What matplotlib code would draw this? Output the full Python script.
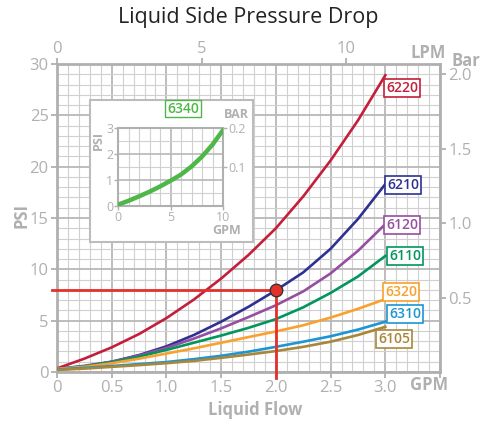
import matplotlib
matplotlib.use("Agg")
import matplotlib.pyplot as plt
import numpy as np
from matplotlib.patches import Rectangle
from matplotlib.ticker import MultipleLocator

plt.rcParams["font.family"] = ["Open Sans", "DejaVu Sans"]

# flow points (GPM) and pressure drop (PSI) for each model
flow_gpm = [0, 0.25, 0.5, 0.75, 1.0, 1.25, 1.5, 1.75, 2.0, 2.25, 2.5, 2.75, 3.0]
psi_6220 = [0.35, 1.3, 2.4, 3.7, 5.25, 7.05, 9.1, 11.4, 14.0, 17.1, 20.6, 24.5, 28.9]
psi_6210 = [0.3, 0.55, 1.0, 1.65, 2.5, 3.6, 4.9, 6.35, 7.95, 9.7, 12.0, 14.9, 18.3]
psi_6120 = [0.3, 0.6, 1.0, 1.6, 2.35, 3.25, 4.25, 5.35, 6.5, 7.85, 9.6, 11.8, 14.4]
psi_6110 = [0.3, 0.55, 0.95, 1.5, 2.15, 2.85, 3.55, 4.3, 5.15, 6.3, 7.7, 9.3, 11.3]
psi_6320 = [0.3, 0.5, 0.85, 1.3, 1.8, 2.3, 2.85, 3.4, 3.95, 4.55, 5.3, 6.15, 7.1]
psi_6310 = [0.25, 0.4, 0.58, 0.77, 0.97, 1.25, 1.58, 1.98, 2.45, 2.95, 3.48, 4.13, 4.9]
psi_6105 = [0.2, 0.33, 0.5, 0.67, 0.86, 1.08, 1.38, 1.7, 2.04, 2.45, 2.95, 3.6, 4.4]

models = ["6220", "6210", "6120", "6110", "6320", "6310", "6105"]
series = [psi_6220, psi_6210, psi_6120, psi_6110, psi_6320, psi_6310, psi_6105]
colors = ["#c41e3a", "#2e3192", "#954fa0", "#00965e", "#f9a12c", "#1b95d3", "#a8873a"]

# tag positions (GPM, PSI) next to the end of each curve
tag_xy = [(3.154, 27.65), (3.163, 18.2), (3.154, 14.3), (3.181, 11.3),
          (3.145, 7.79), (3.181, 5.65), (3.081, 3.24)]

# small model 6340 in the inset
inset_gpm = [0, 1, 2, 3, 4, 5, 6, 7, 8, 9, 10]
psi_6340 = [0.05, 0.2, 0.37, 0.55, 0.75, 0.97, 1.21, 1.52, 1.9, 2.36, 2.92]

# operating point on the 6210 curve
op_gpm = 2.0
op_psi = psi_6210[flow_gpm.index(op_gpm)]

GRAY = "#b0b0b0"
W, H = 482, 421

fig = plt.figure(figsize=(W / 100, H / 100), dpi=100)
ax = fig.add_axes([57 / W, 49 / H, 383 / W, 308 / H])
ax.set_xlim(0, 3.5)
ax.set_ylim(0, 30)

ax.set_xticks(np.arange(0, 3.51, 0.5))
ax.set_xticklabels(["0", "0.5", "1.0", "1.5", "2.0", "2.5", "3.0", ""])
ax.set_yticks(np.arange(0, 31, 5))
ax.xaxis.set_minor_locator(MultipleLocator(0.1))
ax.yaxis.set_minor_locator(MultipleLocator(1))
ax.grid(which="minor", color="#d0d0d0", lw=0.8)
ax.grid(which="major", color="#b8b8b8", lw=1.3)
ax.set_axisbelow(True)
ax.tick_params(which="minor", length=0)
ax.tick_params(which="major", length=4, width=1.3, color=GRAY,
               labelcolor=GRAY, labelsize=12, pad=2)
for s in ax.spines.values():
    s.set_color(GRAY)
    s.set_linewidth(2)

top = ax.secondary_xaxis("top", functions=(lambda g: g * 3.785, lambda l: l / 3.785))
top.set_xticks([0, 5, 10])
top.tick_params(length=4, width=1.3, color=GRAY, labelcolor=GRAY, labelsize=12, pad=1)
top.spines["top"].set_visible(False)

right = ax.secondary_yaxis("right", functions=(lambda p: p / 14.5, lambda b: b * 14.5))
right.set_yticks([0.5, 1.0, 1.5, 2.0])
right.set_yticklabels(["0.5", "1.0", "1.5", "2.0"])
right.tick_params(length=4, width=1.3, color=GRAY, labelcolor=GRAY, labelsize=12, pad=2)
right.spines["right"].set_visible(False)

for name, vals, c, (tx, ty) in zip(models, series, colors, tag_xy):
    ax.plot(flow_gpm, vals, color=c, lw=1.9, zorder=3)
    ax.text(tx, ty, name, color=c, fontsize=10, fontweight="semibold",
            ha="center", va="center", zorder=5, clip_on=False,
            bbox=dict(boxstyle="square,pad=0.15", fc="white", ec=c, lw=1.2))

# guide lines to the operating point
ax.plot([-0.045, op_gpm], [op_psi, op_psi], color="#e3302a", lw=2, zorder=4, clip_on=False)
ax.plot([op_gpm, op_gpm], [op_psi, -0.6], color="#e3302a", lw=2, zorder=4, clip_on=False)
ax.plot(op_gpm, op_psi, "o", ms=9, mfc="#e3302a", mec="#333333", mew=1, zorder=6)

fig.text(248 / W, 1 - 18 / H, "Liquid Side Pressure Drop", ha="center", va="center",
         fontsize=15.5, color="#222222")
fig.text(22 / W, 1 - 215 / H, "PSI", rotation=90, ha="center", va="center",
         fontsize=12, fontweight="bold", color=GRAY)
fig.text(255 / W, 1 - 410 / H, "Liquid Flow", ha="center", va="center",
         fontsize=12, fontweight="bold", color=GRAY)
fig.text(429 / W, 1 - 385 / H, "GPM", ha="center", va="center",
         fontsize=12, fontweight="bold", color=GRAY)
fig.text(428 / W, 1 - 53 / H, "LPM", ha="center", va="center",
         fontsize=12, fontweight="bold", color=GRAY)
fig.text(466 / W, 1 - 61 / H, "Bar", ha="center", va="center",
         fontsize=12, fontweight="bold", color=GRAY)

# inset panel for 6340
fig.add_artist(Rectangle((90 / W, 1 - 242 / H), 163 / W, 142 / H,
                         transform=fig.transFigure, fc="white", ec="#bcbcbc",
                         lw=1.5, zorder=1))
iax = fig.add_axes([118 / W, 1 - 206 / H, 105 / W, 78 / H])
iax.set_zorder(2)
iax.set_xlim(0, 10)
iax.set_ylim(0, 3)
iax.set_xticks([0, 5, 10])
iax.set_yticks([0, 1, 2, 3])
iax.xaxis.set_minor_locator(MultipleLocator(1))
iax.yaxis.set_minor_locator(MultipleLocator(0.5))
iax.grid(which="minor", color="#d0d0d0", lw=0.8)
iax.grid(which="major", color="#b8b8b8", lw=1.2)
iax.set_axisbelow(True)
iax.tick_params(which="minor", length=0)
iax.tick_params(which="major", length=3, width=1, color=GRAY,
                labelcolor=GRAY, labelsize=9, pad=0.5)
for s in iax.spines.values():
    s.set_color(GRAY)
    s.set_linewidth(1.5)
ibar = iax.secondary_yaxis("right", functions=(lambda p: p / 15, lambda b: b * 15))
ibar.set_yticks([0.1, 0.2])
ibar.tick_params(length=3, width=1, color=GRAY, labelcolor=GRAY, labelsize=9, pad=1)
ibar.spines["right"].set_visible(False)
iax.plot(inset_gpm, psi_6340, color="#4db748", lw=3.2, solid_capstyle="round", zorder=3)

fig.text(183 / W, 1 - 108.5 / H, "6340", ha="center", va="center", fontsize=10,
         fontweight="semibold", color="#4db748", zorder=3,
         bbox=dict(boxstyle="square,pad=0.12", fc="white", ec="#4db748", lw=1))
fig.text(236 / W, 1 - 114 / H, "BAR", ha="center", va="center", fontsize=9,
         fontweight="bold", color=GRAY, zorder=3)
fig.text(227 / W, 1 - 230 / H, "GPM", ha="center", va="center", fontsize=9,
         fontweight="bold", color=GRAY, zorder=3)
fig.text(98 / W, 1 - 140 / H, "PSI", rotation=90, ha="center", va="center",
         fontsize=9, fontweight="bold", color=GRAY, zorder=3)

fig.savefig("out.png", dpi=100)
